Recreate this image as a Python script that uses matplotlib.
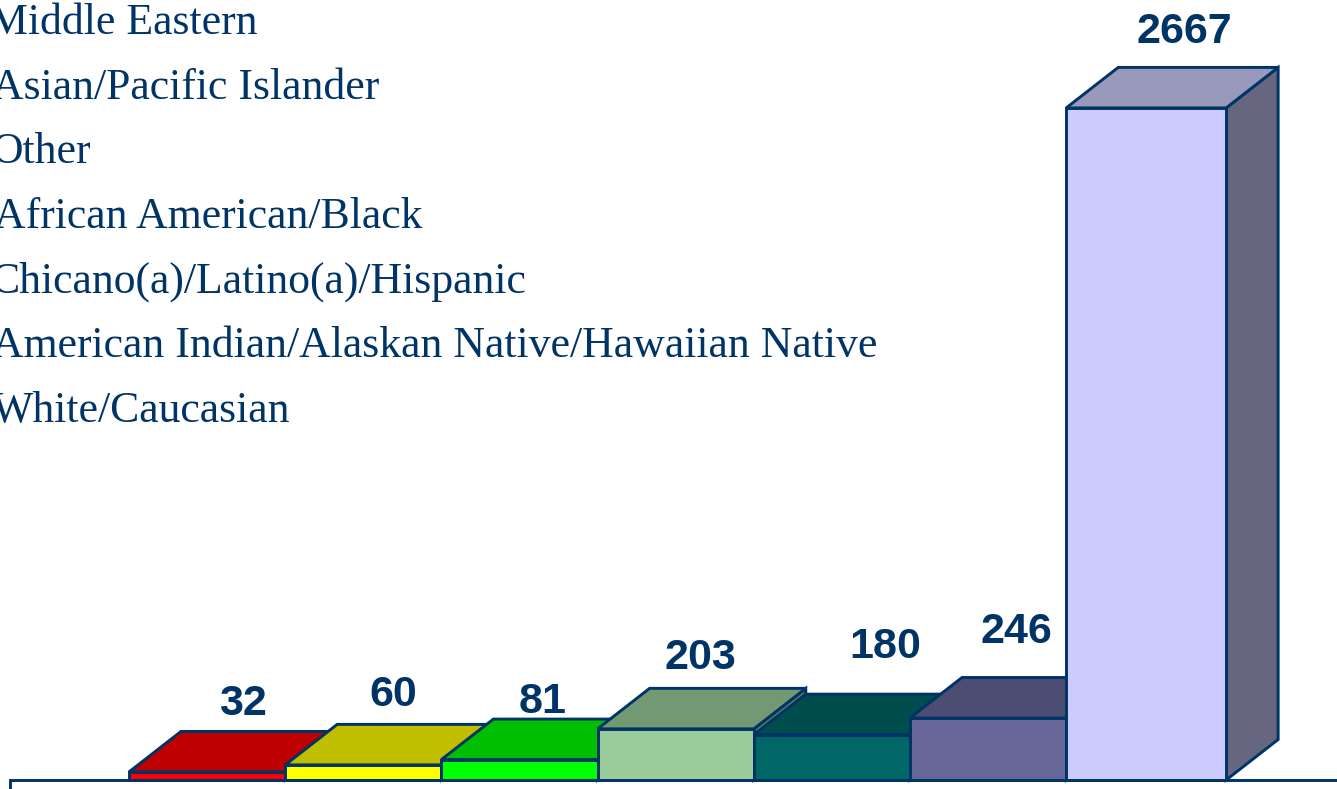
import matplotlib
matplotlib.use("Agg")
import matplotlib.pyplot as plt
from matplotlib.patches import Polygon

# Data
legend_labels = ["Middle Eastern", "Asian/Pacific Islander", "Other", "African American/Black",
                 "Chicano(a)/Latino(a)/Hispanic",
                 "American Indian/Alaskan Native/Hawaiian Native", "White/Caucasian"]
values = [32, 60, 81, 203, 180, 246, 2667]

# Style
front_colors = ["#FF0000", "#FFFF00", "#00FF00", "#9BCC9B", "#006666", "#666699", "#CCCCFF"]
top_colors = ["#BF0000", "#BFBF00", "#00BF00", "#739973", "#004D4D", "#4D4D73", "#9999BB"]
side_colors = ["#800000", "#808000", "#008000", "#5A7A5A", "#003333", "#333355", "#666680"]
ink = "#003366"
W, H = 1337, 789
BASE_PX, PX_PER_UNIT = 780.0, 0.252
LEFT_PX, BAR_PX = 129.0, 156.2
DX, DY = 52 / BAR_PX, 40.5 / PX_PER_UNIT
label_offsets_px = [(36, 57), (30, 59), (23, 47), (25, 60), (53, 77), (28, 75), (38, 65)]
legend_x_shift_px = [-11, -8, -9, -6, -10, -8, -8]
bar_widths = [1, 1, 1, 1, 1, 1, 1.024]

fig = plt.figure(figsize=(W / 100, H / 100), dpi=100)
ax = fig.add_axes([0, 0, 1, 1])
ax.set_xlim(-LEFT_PX / BAR_PX, (W - LEFT_PX) / BAR_PX)
ax.set_ylim(-(H - BASE_PX) / PX_PER_UNIT, BASE_PX / PX_PER_UNIT)
ax.axis("off")

lw = 2.1
for i, (v, w) in enumerate(zip(values, bar_widths)):
    z = 3 + i
    kw = dict(edgecolor=ink, linewidth=lw, joinstyle="miter", zorder=z)
    ax.add_patch(Polygon([(i + w, 0), (i + w + DX, DY), (i + w + DX, v + DY), (i + w, v)],
                         facecolor=side_colors[i], **kw))
    ax.add_patch(Polygon([(i, v), (i + DX, v + DY), (i + w + DX, v + DY), (i + w, v)],
                         facecolor=top_colors[i], **kw))
    ax.bar(i, v, width=w, align="edge", color=front_colors[i], edgecolor=ink,
           linewidth=lw, zorder=z)
    dx, dy = label_offsets_px[i]
    ax.annotate(str(v), xy=(i + w / 2, v), xytext=(dx * 0.72, dy * 0.72),
                textcoords="offset points", ha="center", va="baseline", color=ink,
                fontsize=31, fontweight="bold", family="Liberation Sans", zorder=30)

# Baseline and its left tick
fig.add_artist(plt.Line2D([10 / W, 10 / W, 1], [0, (H - BASE_PX) / H, (H - BASE_PX) / H],
                          color=ink, lw=lw, zorder=20, solid_joinstyle="miter"))

# Legend text, its keys cropped out of the frame
for n, label in enumerate(legend_labels):
    fig.text(legend_x_shift_px[n] / W, 1 - (34 + 64.6 * n) / H, label, family="Liberation Serif",
             fontsize=31.5, color=ink, ha="left", va="baseline")

fig.savefig("out.png", dpi=100)
